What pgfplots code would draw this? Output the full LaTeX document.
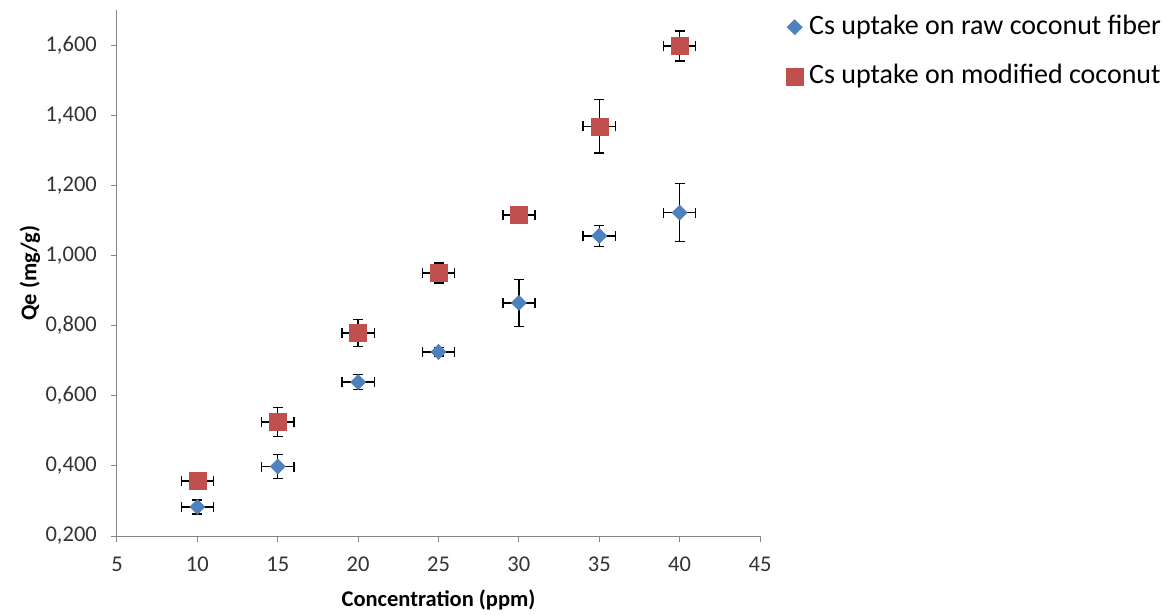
\documentclass[border=0pt]{standalone}
\usepackage{pgfplots}
\pgfplotsset{compat=1.18}
\usepackage{pgfplotstable}
\usepackage{fontspec}
\setmainfont{Carlito}
\definecolor{rawblue}{HTML}{4F81BD}
\definecolor{modred}{HTML}{C0504D}
\definecolor{axgray}{HTML}{868686}

\pgfplotstableread{
x  y      ex  ey
10 0.283  1   0.020
15 0.398  1   0.034
20 0.639  1   0.021
25 0.725  1   0.012
30 0.865  1   0.067
35 1.056  1   0.030
40 1.122  1   0.083
}\rawdata

\pgfplotstableread{
x  y      ex  ey
10 0.357  1   0.020
15 0.525  1   0.041
20 0.779  1   0.038
25 0.950  1   0.028
30 1.115  1   0.020
35 1.368  1   0.076
40 1.597  1   0.043
}\moddata

\begin{document}
\begin{tikzpicture}[x=1pt,y=1pt]
\useasboundingbox (-117,-78) rectangle (1055,536);
\begin{axis}[
  at={(0,0)}, anchor=south west,
  scale only axis, width=643pt, height=526pt,
  xmin=5, xmax=45, ymin=0.2, ymax=1.7,
  xtick={5,10,15,20,25,30,35,40,45},
  ytick={0.2,0.4,0.6,0.8,1.0,1.2,1.4,1.6},
  axis x line*=bottom, axis y line*=left,
  axis line style={axgray, line width=1pt, -},
  tick style={axgray, line width=1pt},
  tick align=outside, major tick length=6pt,
  tick label style={font=\fontsize{22.5}{26}\selectfont, text=black!80, inner sep=0pt},
  yticklabel style={xshift=-14pt},
  xticklabel style={yshift=-15pt},
  /pgf/number format/assume math mode=true,
  yticklabel={\pgfmathprintnumber[fixed, fixed zerofill, precision=3, use comma]{\tick}},
  xticklabel={\pgfmathprintnumber[fixed, precision=0]{\tick}},
  every axis x label/.style={at={(axis description cs:0.5,-0.1217)}, anchor=center},
  every axis y label/.style={at={(axis description cs:-0.1353,0.5)}, anchor=center, rotate=90},
  label style={font=\bfseries\fontsize{22.5}{26}\selectfont},
  xlabel={Concentration (ppm)},
  ylabel={Qe (mg/g)},
  legend style={
    at={(axis description cs:1,1)}, anchor=north west,
    xshift=26pt, yshift=-3pt,
    draw=none, fill=none,
    font=\fontsize{28}{33}\selectfont,
    inner sep=0pt, row sep=21pt,
    nodes={inner sep=0pt, text height=21pt, text depth=7pt, anchor=west},
    /tikz/every odd column/.append style={column sep=6pt},
  },
  legend cell align=left,
]
\addplot[
  only marks, mark=square*, mark size=5.4pt,
  mark options={rotate=45, fill=rawblue, draw=rawblue},
  error bars/.cd,
    x dir=both, x explicit, y dir=both, y explicit,
    error bar style={black, line width=1.4pt},
    error mark options={rotate=90, black, line width=1.4pt, mark size=5pt},
  ] table[x=x, y=y, x error=ex, y error=ey] {\rawdata};
\addlegendentry{Cs uptake on raw coconut fiber}
\addplot[
  only marks, mark=square*, mark size=8.5pt,
  mark options={fill=modred, draw=modred},
  error bars/.cd,
    x dir=both, x explicit, y dir=both, y explicit,
    error bar style={black, line width=1.4pt},
    error mark options={rotate=90, black, line width=1.4pt, mark size=5pt},
  ] table[x=x, y=y, x error=ex, y error=ey] {\moddata};
\addlegendentry{Cs uptake on modified coconut}
\end{axis}
\end{tikzpicture}
\end{document}
